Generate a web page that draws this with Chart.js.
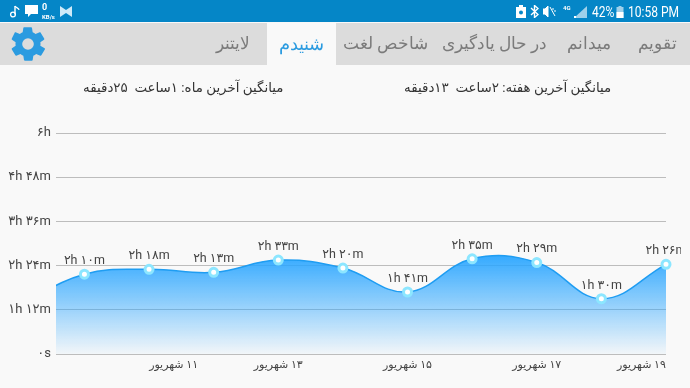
<!DOCTYPE html>
<html>
<head>
<meta charset="utf-8">
<title>شنیدم</title>
<script src="https://cdn.jsdelivr.net/npm/chart.js@4"></script>
<style>
  html, body { margin: 0; padding: 0; background: #f9f9f9; overflow: hidden; }
  body { width: 690px; height: 388px; position: relative; font-family: Roboto, "DejaVu Sans", sans-serif; }
  #status { position: absolute; left: 0; top: 0; width: 690px; height: 22px; background: #0586c7; color: #fff; }
  #tabs { position: absolute; left: 0; top: 23px; width: 690px; height: 42px; background: #dcdcdc; }
  #active { position: absolute; left: 267px; top: 23px; width: 69px; height: 43px; background: #f9f9f9; }
  .tab, .avg, .st { position: absolute; white-space: nowrap; direction: rtl; }
  .tab { top: 33px; font-size: 16.5px; line-height: 22px; color: #7b7b7b; font-weight: 300; }
  .avg { top: 79px; font-size: 13.4px; line-height: 18px; color: #333; }
  .st { direction: ltr; color: #fff; font-size: 14px; line-height: 22px; top: 1px; }
  .narrow { transform: scaleX(0.86); transform-origin: left center; }
  svg { position: absolute; }
  #wrap { position: absolute; left: 0; top: 0; width: 690px; height: 388px; }
</style>
</head>
<body>
<div id="wrap"><canvas id="myChart" width="690" height="388"></canvas></div>
<div id="status"></div>
<div id="tabs"></div>
<div id="active"></div>

<span class="st" style="left:42px;top:3px;font-size:9px;line-height:9px;font-weight:700">0</span>
<span class="st" style="left:42px;top:13px;font-size:6px;line-height:7px;font-weight:700">KB/s</span>
<span class="st narrow" style="left:592px">42%</span>
<span class="st narrow" style="left:628px">10:58 PM</span>
<span class="st" style="left:563px;top:4px;font-size:6px;line-height:7px;font-weight:700">4G</span>

<svg style="left:9px;top:5px" width="12" height="13" viewBox="0 0 12 13"><path d="M6 1v8.5" stroke="#fff" stroke-width="1.4"/><path d="M6 1c1 2 4 2 4 4" stroke="#fff" stroke-width="1.2" fill="none"/><circle cx="4" cy="9.5" r="2.4" fill="none" stroke="#fff" stroke-width="1.3"/></svg>
<svg style="left:25px;top:5px" width="14" height="13" viewBox="0 0 14 13"><path d="M0 0h13v9H6l-3 3V9H0z" fill="#fff"/></svg>
<svg style="left:60px;top:6px" width="12" height="11" viewBox="0 0 12 11"><path d="M0 0l6 4 6-4v11L6 7l-6 4z" fill="#cfeaf8"/></svg>
<svg style="left:516px;top:5px" width="10" height="13" viewBox="0 0 10 13"><path d="M0 2h3V0h4v2h3v11H0z" fill="#fff"/><circle cx="5" cy="7.5" r="2" fill="#0586c7"/></svg>
<svg style="left:530px;top:5px" width="9" height="13" viewBox="0 0 9 13"><path d="M1 3l7 6.5-3.5 3V.5L8 3.5 1 10" stroke="#fff" stroke-width="1.4" fill="none"/></svg>
<svg style="left:543px;top:6px" width="13" height="11" viewBox="0 0 13 11"><path d="M0 3h2l3-3v11L2 8H0zM7 1l5 9M10 2v2M12 4v2" stroke="#fff" stroke-width="1" fill="#fff"/></svg>
<svg style="left:574px;top:6px" width="13" height="12" viewBox="0 0 13 12"><path d="M13 0v12H0z" fill="#9fd0ea"/><path d="M0 10h2v2H0z" fill="#fff"/></svg>
<svg style="left:616px;top:6px" width="8" height="12" viewBox="0 0 7 12"><path d="M2 0h3v1h2v11H0V1h2z" fill="#9fd0ea"/><path d="M0 6h7v6H0z" fill="#fff"/></svg>
<svg style="left:8px;top:24px" width="40" height="40" viewBox="0 0 24 24"><path fill="#2b9be0" d="M19.4 13c.1-.3.1-.7.1-1s0-.7-.1-1l2.200-1.600c.2-.2.3-.4.1-.7l-2.100-3.500c-.1-.2-.4-.3-.6-.2l-2.500 1c-.5-.4-1.100-.7-1.700-1l-.4-2.600c0-.2-.2-.4-.5-.4h-4.200c-.2 0-.5.2-.5.4l-.4 2.600c-.6.3-1.200.6-1.700 1l-2.500-1c-.2-.1-.5 0-.6.2L2.300 8.700c-.2.3-.1.500.1.700L4.600 11c-.1.3-.1.700-.1 1s0 .7.100 1l-2.200 1.600c-.2.2-.3.400-.1.700l2.100 3.500c.1.200.4.300.6.200l2.500-1c.5.400 1.100.700 1.700 1l.4 2.600c0 .2.300.4.500.4h4.200c.3 0 .5-.2.500-.4l.4-2.600c.6-.3 1.200-.6 1.700-1l2.500 1c.2.100.5 0 .6-.2l2.100-3.500c.2-.3.100-.5-.1-.7zM12 15.500a3.500 3.500 0 1 1 0-7 3.500 3.500 0 0 1 0 7z"/></svg>

<span class="tab" style="left:638px">تقویم</span>
<span class="tab" style="left:567px">میدانم</span>
<span class="tab" style="left:442px">در حال یادگیری</span>
<span class="tab" style="left:343px">شاخص لغت</span>
<span class="tab" style="left:279px;color:#2b9be0;font-size:18px">شنیدم</span>
<span class="tab" style="left:216px">لایتنر</span>
<span class="avg" style="left:83px">میانگین آخرین ماه: ۱ساعت&nbsp; ۲۵دقیقه</span>
<span class="avg" style="left:404px">میانگین آخرین هفته: ۲ساعت&nbsp; ۱۳دقیقه</span>

<script>
// days of shahrivar, first one is off the left edge of the plot
const days = [9, 10, 11, 12, 13, 14, 15, 16, 17, 18, 19];
// minutes per day
const minutes = [80, 130, 138, 133, 153, 140, 101, 155, 149, 90, 146];
const pointLabels = ["", "۲h ۱۰m", "۲h ۱۸m", "۲h ۱۳m", "۲h ۳۳m", "۲h ۲۰m", "۱h ۴۱m", "۲h ۳۵m", "۲h ۲۹m", "۱h ۳۰m", "۲h ۲۶m"];

const yTicks = [0, 72, 144, 216, 288, 360];
const yLabels = ["۰s", "۱h ۱۲m", "۲h ۲۴m", "۳h ۳۶m", "۴h ۴۸m", "۶h"];

// where the date labels sit on the day axis (first and last get pushed inward)
const xTicks = [11.38, 13, 15, 17, 18.62];
const xLabels = ["۱۱ شهریور", "۱۳ شهریور", "۱۵ شهریور", "۱۷ شهریور", "۱۹ شهریور"];

const textFont = "Roboto, 'DejaVu Sans', sans-serif";

// value labels above the points
const labelPlugin = {
  id: "pointText",
  afterDatasetsDraw(chart) {
    const ctx = chart.ctx;
    const meta = chart.getDatasetMeta(0);
    ctx.save();
    ctx.beginPath();
    ctx.rect(0, 0, 681, 388);
    ctx.clip();
    ctx.font = "12.5px " + textFont;
    ctx.fillStyle = "#444";
    ctx.textAlign = "center";
    ctx.textBaseline = "bottom";
    for (let i = 1; i < meta.data.length; i++) {
      ctx.fillText(pointLabels[i], meta.data[i].x, meta.data[i].y - 7);
    }
    ctx.restore();
  },
};

function areaFill(context) {
  const area = context.chart.chartArea;
  if (!area) return "rgba(41,168,255,0.9)";
  const y = context.chart.scales.y;
  const g = context.chart.ctx.createLinearGradient(0, y.getPixelForValue(170), 0, area.bottom);
  g.addColorStop(0, "rgba(41,165,255,1)");
  g.addColorStop(1, "rgba(41,165,255,0.03)");
  return g;
}

new Chart(document.getElementById("myChart"), {
  type: "line",
  data: {
    labels: days,
    datasets: [
      {
        data: minutes,
        borderColor: "#1f9df2",
        borderWidth: 1.5,
        tension: 0.4,
        fill: "origin",
        backgroundColor: areaFill,
        pointRadius: (c) => (c.dataIndex === 0 ? 0 : 4),
        pointBackgroundColor: "#fff",
        pointBorderColor: "#8ce6ff",
        pointBorderWidth: 3,
        clip: { left: 0, top: 0, right: 8, bottom: 0 },
      },
    ],
  },
  plugins: [labelPlugin],
  options: {
    responsive: false,
    animation: false,
    layout: { padding: { top: 133, right: 24, left: 0, bottom: 0 } },
    plugins: { legend: { display: false }, tooltip: { enabled: false } },
    scales: {
      x: {
        type: "linear",
        min: 9.56,
        max: 19,
        border: { display: false },
        grid: { display: false },
        afterBuildTicks(scale) {
          scale.ticks = xTicks.map((v) => ({ value: v }));
        },
        ticks: {
          autoSkip: false,
          maxRotation: 0,
          padding: -3,
          color: "#444",
          font: { family: textFont, size: 11 },
          callback: (v, i) => "\u200f" + xLabels[i],
        },
        afterFit(scale) {
          scale.height = 34;
          scale.paddingLeft = 0;
          scale.paddingRight = 0;
        },
      },
      y: {
        min: 0,
        max: 360,
        border: { display: false },
        grid: { color: "#bdbdbd", lineWidth: 1, drawTicks: false },
        afterBuildTicks(scale) {
          scale.ticks = yTicks.map((v) => ({ value: v }));
        },
        ticks: {
          padding: 5,
          color: "#444",
          font: { family: textFont, size: 13 },
          callback: (v, i) => yLabels[i],
        },
        afterFit(scale) {
          scale.width = 56;
          scale.paddingTop = 0;
          scale.paddingBottom = 0;
        },
      },
    },
  },
});
</script>
</body>
</html>
